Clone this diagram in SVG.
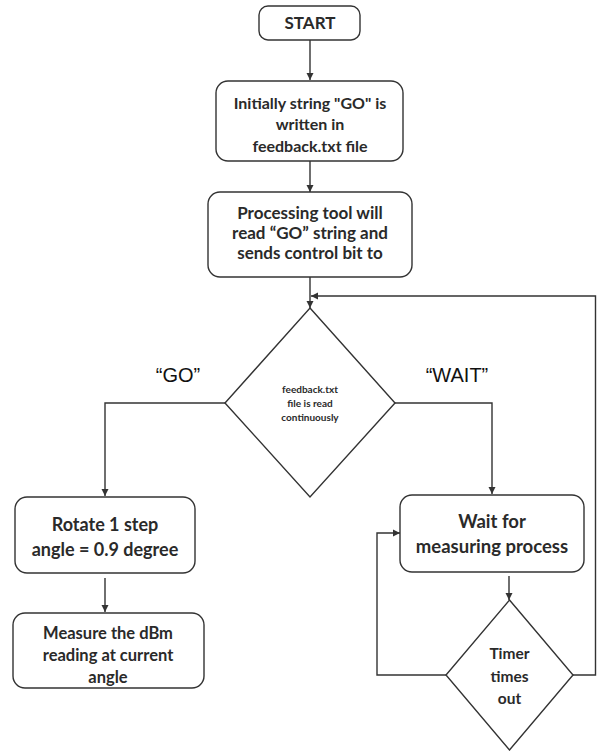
<svg xmlns="http://www.w3.org/2000/svg" width="597" height="751" viewBox="0 0 597 751">
<defs>
<style>
.box{fill:#fff;stroke:#333;stroke-width:1.4}
.t{font-family:Lato,"Open Sans","Liberation Sans",sans-serif;font-weight:bold;fill:#2a2a2a;text-anchor:middle}
.c{fill:none;stroke:#333;stroke-width:1.4}
.lbl{font-family:"Liberation Sans",Arial,sans-serif;fill:#111;text-anchor:middle;font-size:20px}
</style>
<marker id="ah" markerWidth="8" markerHeight="8" refX="7" refY="4" orient="auto" markerUnits="userSpaceOnUse">
<path d="M0,0.5 L7,4 L0,7.5 Z" fill="#333"/>
</marker>
</defs>
<rect width="597" height="751" fill="#fff"/>
<g id="connectors">
<line class="c" x1="310" y1="40" x2="310" y2="80" marker-end="url(#ah)"/>
<line class="c" x1="310" y1="161" x2="310" y2="192" marker-end="url(#ah)"/>
<line class="c" x1="310" y1="277" x2="310" y2="308" marker-end="url(#ah)"/>
<polyline class="c" points="225,403 105,403 105,496" marker-end="url(#ah)"/>
<polyline class="c" points="395,403 492,403 492,494" marker-end="url(#ah)"/>
<line class="c" x1="105" y1="578" x2="105" y2="612" marker-end="url(#ah)"/>
<line class="c" x1="509" y1="576" x2="509" y2="600" marker-end="url(#ah)"/>
<polyline class="c" points="446,675 377,675 377,533 400,533" marker-end="url(#ah)"/>
<polyline class="c" points="573,675 595.5,675 595.5,296 311,296" marker-end="url(#ah)"/>
</g>
<g id="start">
<rect class="box" x="259" y="6" width="101" height="34" rx="9"/>
<text class="t" x="310" y="29" font-size="17">START</text>
</g>
<g id="init">
<rect class="box" x="216" y="81" width="187" height="80" rx="12"/>
<text class="t" font-size="16"><tspan x="310" y="109">Initially string "GO" is</tspan><tspan x="310" y="130">written in</tspan><tspan x="310" y="152">feedback.txt file</tspan></text>
</g>
<g id="processing">
<rect class="box" x="208" y="192" width="204" height="85" rx="12"/>
<text class="t" font-size="17"><tspan x="310" y="219">Processing tool will</tspan><tspan x="310" y="239">read “GO” string and</tspan><tspan x="310" y="259">sends control bit to</tspan></text>
</g>
<g id="decision">
<polygon class="box" points="310,308 395,403 310,497 225,403"/>
<text class="t" font-size="10"><tspan x="310" y="393">feedback.txt</tspan><tspan x="310" y="407">file is read</tspan><tspan x="310" y="421">continuously</tspan></text>
</g>
<g id="label-go"><text class="lbl" x="178" y="382">“GO”</text></g>
<g id="label-wait"><text class="lbl" x="457" y="382">“WAIT”</text></g>
<g id="rotate">
<rect class="box" x="15" y="497" width="180" height="76" rx="12"/>
<text class="t" font-size="18"><tspan x="105" y="531">Rotate 1 step</tspan><tspan x="105" y="556">angle = 0.9 degree</tspan></text>
</g>
<g id="measure">
<rect class="box" x="13" y="613" width="191" height="75" rx="12"/>
<text class="t" font-size="16.5"><tspan x="108" y="639">Measure the dBm</tspan><tspan x="108" y="661">reading at current</tspan><tspan x="108" y="683">angle</tspan></text>
</g>
<g id="wait">
<rect class="box" x="400" y="495" width="184" height="77" rx="12"/>
<text class="t" font-size="18.5"><tspan x="492" y="528">Wait for</tspan><tspan x="492" y="553">measuring process</tspan></text>
</g>
<g id="timer">
<polygon class="box" points="509.5,600 573,675 509.5,750 446,675"/>
<text class="t" font-size="15.5"><tspan x="509.5" y="659">Timer</tspan><tspan x="509.5" y="682">times</tspan><tspan x="509.5" y="704">out</tspan></text>
</g>
</svg>
